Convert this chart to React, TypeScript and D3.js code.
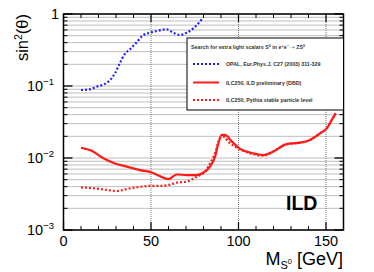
import React from "react";
import * as d3 from "d3";

const opalMass = [10, 15, 19, 23.7, 26.6, 29.4, 32.3, 35.1, 38, 41.8, 45.2, 49.4, 54.2, 58.6, 62.7, 66.6, 70.4, 74.2, 77, 79.5];
const opalSin = [0.088, 0.09, 0.098, 0.107, 0.121, 0.15, 0.21, 0.28, 0.323, 0.404, 0.5, 0.55, 0.587, 0.615, 0.55, 0.51, 0.55, 0.63, 0.74, 0.87];

const dbdMass = [10, 16.1, 22.8, 29.4, 36.1, 43.7, 50.4, 55.1, 59.9, 64.7, 70.4, 76.1, 80.9, 83.7, 86.6, 88.5, 90.4, 92.3, 96.1, 100.9, 106.6, 114.2, 119.9, 127.5, 134.2, 139.9, 146.6, 150.4, 153.3, 155.5];
const dbdSin = [0.0139, 0.0126, 0.0099, 0.0084, 0.0076, 0.0068, 0.0063, 0.0056, 0.0051, 0.0059, 0.0058, 0.0058, 0.0065, 0.0076, 0.0104, 0.016, 0.0209, 0.0209, 0.017, 0.0134, 0.0119, 0.011, 0.0123, 0.0156, 0.0162, 0.0174, 0.022, 0.0258, 0.0337, 0.0417];

const pythiaMass = [10, 17, 24.7, 30.4, 36.1, 43.7, 49.4, 55.1, 59.9, 64.7, 70.4, 76.1, 80.9, 83.7, 86.6, 89.4, 91.3, 95.1, 99.9, 106.6, 114.2, 119.9, 127.5, 134.2, 139.9, 146.6, 150.4, 153.3, 155.5];
const pythiaSin = [0.0039, 0.0038, 0.0036, 0.00348, 0.0037, 0.00398, 0.0041, 0.0041, 0.0042, 0.00454, 0.0047, 0.0055, 0.00645, 0.0084, 0.0116, 0.0188, 0.0198, 0.016, 0.0136, 0.0116, 0.0108, 0.0123, 0.0156, 0.0162, 0.0174, 0.022, 0.0258, 0.0337, 0.0417];

const xMajorTicks = [0, 50, 100, 150];
const yMajorExps = [0, -1, -2, -3];

const FONT = "'Liberation Sans', Arial, Helvetica, sans-serif";

export default function App() {
  const L = 63.5, R = 343.5, T = 14, B = 230;
  const x = d3.scaleLinear().domain([0, 160]).range([L, R]);
  const y = d3.scaleLog().domain([1e-3, 1]).range([B, T]);

  const line = d3
    .line<[number, number]>()
    .x((d) => x(d[0]))
    .y((d) => y(d[1]))
    .curve(d3.curveMonotoneX);

  const zip = (a: number[], b: number[]) => a.map((v, i) => [v, b[i]] as [number, number]);

  const minorY: number[] = [];
  for (let k = -3; k < 0; k++) for (let m = 2; m <= 9; m++) minorY.push(m * Math.pow(10, k));
  const majorY = yMajorExps.map((e) => Math.pow(10, e));
  const xMinor = d3.range(0, 161, 10).filter((v) => !xMajorTicks.includes(v));

  const grid = "#7a7a7a";

  return (
    <svg width={374} height={272} style={{ position: "absolute", left: 0, top: 0, background: "#fff" }} fontFamily={FONT}>
      <rect x={0} y={0} width={374} height={272} fill="#fff" />
      {/* grid */}
      {[...minorY, ...majorY].map((v, i) => (
        <line key={"gy" + i} x1={L} x2={R} y1={y(v)} y2={y(v)} stroke={grid} strokeWidth={1} strokeDasharray="1,1" />
      ))}
      {[50, 100, 150].map((v) => (
        <line key={"gx" + v} x1={x(v)} x2={x(v)} y1={T} y2={B} stroke={grid} strokeWidth={1} strokeDasharray="1,1" />
      ))}
      {/* ticks */}
      {minorY.map((v, i) => (
        <g key={"ty" + i}>
          <line x1={L} x2={L + 4} y1={y(v)} y2={y(v)} stroke="#000" strokeWidth={1} />
          <line x1={R} x2={R - 4} y1={y(v)} y2={y(v)} stroke="#000" strokeWidth={1} />
        </g>
      ))}
      {majorY.map((v, i) => (
        <g key={"tY" + i}>
          <line x1={L} x2={L + 9} y1={y(v)} y2={y(v)} stroke="#000" strokeWidth={1.3} />
          <line x1={R} x2={R - 9} y1={y(v)} y2={y(v)} stroke="#000" strokeWidth={1.3} />
        </g>
      ))}
      {xMinor.map((v) => (
        <g key={"tx" + v}>
          <line x1={x(v)} x2={x(v)} y1={B} y2={B - 4} stroke="#000" strokeWidth={1} />
          <line x1={x(v)} x2={x(v)} y1={T} y2={T + 4} stroke="#000" strokeWidth={1} />
        </g>
      ))}
      {xMajorTicks.map((v) => (
        <g key={"tX" + v}>
          <line x1={x(v)} x2={x(v)} y1={B} y2={B - 8} stroke="#000" strokeWidth={1.2} />
          <line x1={x(v)} x2={x(v)} y1={T} y2={T + 8} stroke="#000" strokeWidth={1.2} />
        </g>
      ))}
      {/* curves */}
      <path d={line(zip(opalMass, opalSin)) || ""} fill="none" stroke="#1f1fff" strokeWidth={2.2} strokeDasharray="2,2" />
      <path d={line(zip(pythiaMass, pythiaSin)) || ""} fill="none" stroke="#ff1a1a" strokeWidth={2.2} strokeDasharray="2,2" />
      <path d={line(zip(dbdMass, dbdSin)) || ""} fill="none" stroke="#ff1a1a" strokeWidth={2.2} />
      {/* frame */}
      <rect x={L} y={T} width={R - L} height={B - T} fill="none" stroke="#000" strokeWidth={1.5} />
      {/* x labels */}
      {xMajorTicks.map((v) => (
        <text key={"lx" + v} x={x(v)} y={246} fontSize={14.5} textAnchor="middle" fill="#000">
          {v}
        </text>
      ))}
      {/* y labels */}
      {yMajorExps.map((e) =>
        e === 0 ? (
          <text key="ly0" x={59} y={y(1) + 5} fontSize={14.5} textAnchor="end">1</text>
        ) : (
          <text key={"ly" + e} x={54} y={y(Math.pow(10, e)) + 5} fontSize={14.5} textAnchor="end">
            10
            <tspan fontSize={9.5} dy={-6}>{"\u2212" + -e}</tspan>
          </text>
        )
      )}
      {/* axis titles */}
      <text x={343} y={265} fontSize={18} textAnchor="end">
        M
        <tspan fontSize={11} dy={4}>S</tspan>
        <tspan fontSize={7.5} dy={-5}>0</tspan>
        <tspan dy={1}>{" [GeV]"}</tspan>
      </text>
      <text transform="translate(28,14) rotate(-90)" fontSize={16.5} textAnchor="end">
        sin
        <tspan fontSize={10.5} dy={-6}>2</tspan>
        <tspan dy={6}>(θ)</tspan>
      </text>
      {/* legend */}
      <rect x={187} y={38} width={R - 187} height={72} fill="#fff" stroke="#000" strokeWidth={1} />
      <text x={191} y={49} fontSize={5.3} fontWeight="bold" fill="#333">
        Search for extra light scalars S
        <tspan fontSize={3.8} dy={-2}>0</tspan>
        <tspan dy={2}> in e</tspan>
        <tspan fontSize={3.8} dy={-2}>+</tspan>
        <tspan dy={2}>e</tspan>
        <tspan fontSize={3.8} dy={-2}>−</tspan>
        <tspan dy={2}>{" "}</tspan>
        <tspan fontFamily="'DejaVu Sans', sans-serif" fontWeight="normal">{"\u2192"}</tspan>
        <tspan>{" ZS"}</tspan>
        <tspan fontSize={3.8} dy={-2}>0</tspan>
      </text>
      <line x1={193} x2={219} y1={64} y2={64} stroke="#1f1fff" strokeWidth={2} strokeDasharray="2,2" />
      <text x={226} y={66} fontSize={5.3} fontWeight="bold" fill="#333">OPAL, Eur.Phys.J. C27 (2003) 311-329</text>
      <line x1={193} x2={219} y1={82.5} y2={82.5} stroke="#ff1a1a" strokeWidth={2} />
      <text x={226} y={84.5} fontSize={5.3} fontWeight="bold" fill="#333">ILC250, ILD preliminary (DBD)</text>
      <line x1={193} x2={219} y1={100} y2={100} stroke="#ff1a1a" strokeWidth={2} strokeDasharray="2,2" />
      <text x={226} y={102} fontSize={5.3} fontWeight="bold" fill="#333">ILC250, Pythia stable particle level</text>
      {/* ILD */}
      <text x={286} y={210} fontSize={19.5} fontWeight="bold" fill="#000">ILD</text>
    </svg>
  );
}
